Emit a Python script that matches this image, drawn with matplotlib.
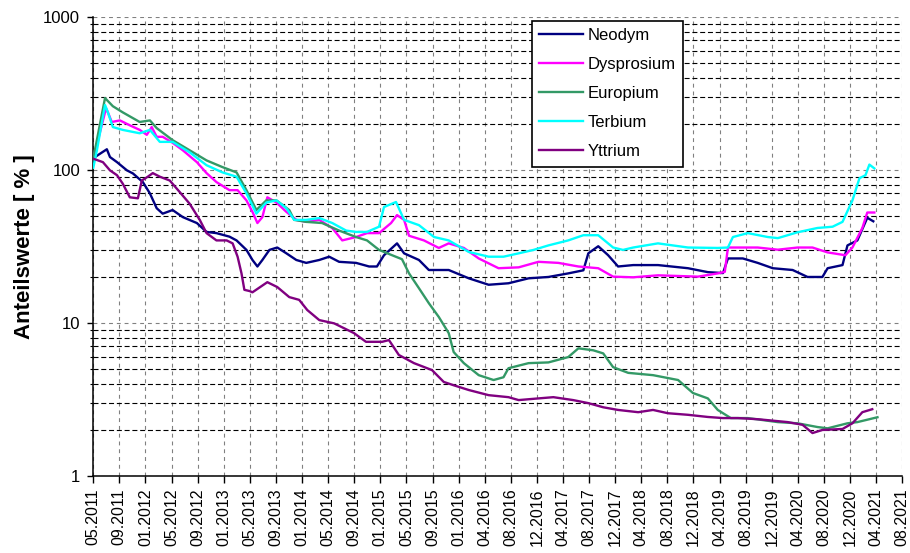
import numpy as np
from matplotlib import pyplot as plt
from matplotlib.ticker import NullFormatter, LogLocator

# x-Achse: gleichmaessig verteilte Datumsmarken (Position = Index der Marke)
xticklabels = ['05.2011', '09.2011', '01.2012', '05.2012', '09.2012', '01.2013',
               '05.2013', '09.2013', '01.2014', '05.2014', '09.2014', '01.2015',
               '05.2015', '09.2015', '01.2016', '04.2016', '08.2016', '12.2016',
               '04.2017', '08.2017', '12.2017', '04.2018', '08.2018', '12.2018',
               '04.2019', '08.2019', '12.2019', '04.2020', '08.2020', '12.2020',
               '04.2021', '08.2021']

nd_t = [0, 0.52, 0.64, 0.91, 1.29, 1.52, 1.90, 2.17, 2.43, 2.66, 3.04, 3.43, 3.97,
        4.34, 4.72, 5.22, 5.49, 5.87, 6.10, 6.29, 6.48, 6.75, 7.05, 7.40, 7.78, 8.16,
        8.66, 9.04, 9.42, 10.07, 10.57, 10.87, 11.14, 11.64, 11.91, 12.48, 12.86,
        13.62, 14.39, 15.15, 15.91, 16.68, 17.44, 18.20, 18.78, 18.97, 19.35, 19.73,
        20.11, 20.69, 21.64, 22.79, 23.55, 24.13, 24.32, 24.89, 25.46, 26.04, 26.80,
        27.37, 27.94, 28.14, 28.71, 28.90, 29.28, 29.66, 29.89]
nd_v = [119, 136, 121, 112, 99, 94.5, 83, 70, 56, 51.6, 54.5, 49, 44.8,
        39.2, 38.5, 36.5, 34.5, 29.9, 25.7, 23.3, 25.7, 29.9, 31, 28.4, 25.7, 24.6,
        25.7, 27, 25, 24.6, 23.3, 23.3, 27.6, 33, 28.4, 25.7, 22.1,
        22.1, 19.5, 17.7, 18.1, 19.5, 19.9, 21, 22, 28.4, 31.6, 27.6,
        23.3, 23.8, 23.8, 22.7, 21.4, 21.1, 26.3, 26.3, 24.6, 22.7, 22.1,
        19.9, 19.9, 22.7, 23.8, 32, 34.5, 48.5, 46]

dy_t = [0, 0.49, 0.56, 0.71, 1.02, 1.40, 1.78, 2.05, 2.24, 2.43, 2.66, 3.04, 3.43,
        3.97, 4.34, 4.72, 5.22, 5.53, 5.87, 6.10, 6.29, 6.48, 6.67, 7.02, 7.40, 7.78,
        8.16, 8.66, 9.16, 9.54, 10.07, 10.49, 10.95, 11.41, 11.64, 11.91, 12.10,
        12.67, 13.24, 13.62, 14.20, 14.77, 15.53, 16.30, 17.06, 17.82, 18.59, 19.35,
        19.92, 20.69, 21.64, 23.17, 23.93, 24.20, 24.32, 25.46, 26.23, 26.99, 27.56,
        28.14, 28.82, 29.09, 29.47, 29.66, 29.93]
dy_v = [118, 252, 237, 205, 210, 195, 182, 169, 190, 164, 164, 150, 134,
        112, 95, 83, 73.5, 73.5, 63, 53, 44.8, 49, 66, 61, 53, 47,
        45.6, 47, 41.5, 34.5, 36.3, 38.5, 38.5, 44.8, 50.5, 47, 37,
        34.5, 30.8, 33, 30.8, 26.3, 22.7, 23, 25, 24.6, 23.3, 22.7,
        20, 19.8, 20.4, 20, 21, 21.5, 31, 31, 30, 31, 31,
        28.8, 27.6, 31, 41.6, 52.5, 52.5]

eu_t = [0, 0.45, 0.75, 1.13, 1.78, 2.17, 2.43, 3.04, 3.69, 4.34, 4.95, 5.49, 5.87,
        6.25, 6.63, 7.02, 7.51, 7.70, 8.16, 8.77, 9.42, 10.07, 10.49, 10.95, 11.52,
        11.83, 12.10, 12.48, 12.86, 13.24, 13.62, 13.81, 14.20, 14.77, 15.34, 15.72,
        15.91, 16.68, 17.44, 18.20, 18.59, 19.16, 19.54, 19.92, 20.50, 21.45, 22.41,
        22.98, 23.55, 23.93, 24.43, 25.08, 26.23, 26.99, 27.75, 28.14, 28.90, 29.28,
        30.05]
eu_v = [118, 294, 260, 237, 205, 210, 187, 156, 134, 115, 104, 96, 73.5,
        54.5, 63, 63, 54.5, 47, 45.6, 44.8, 40, 36.3, 34.5, 29.9, 27.3,
        26, 21, 16.8, 13.4, 10.9, 8.55, 6.43, 5.44, 4.54, 4.22, 4.4,
        5.04, 5.44, 5.5, 5.96, 6.8, 6.6, 6.3, 5.12, 4.7, 4.54, 4.22,
        3.47, 3.2, 2.69, 2.38, 2.38, 2.24, 2.2, 2.08, 2.04, 2.2, 2.24,
        2.41]

tb_t = [0, 0.14, 0.45, 0.56, 0.75, 1.13, 1.78, 2.17, 2.55, 3.04, 3.69, 4.34, 4.95,
        5.49, 5.87, 6.25, 6.63, 7.02, 7.40, 7.70, 8.16, 8.66, 9.16, 9.69, 10.07,
        10.49, 10.95, 11.14, 11.60, 11.91, 12.48, 13.06, 13.62, 14.39, 15.15, 15.72,
        16.30, 16.87, 17.44, 18.20, 18.78, 19.35, 19.92, 20.30, 20.69, 21.64, 22.79,
        23.93, 24.32, 24.51, 25.08, 25.85, 26.23, 26.99, 27.75, 28.33, 28.71, 29.09,
        29.36, 29.59, 29.74, 29.93]
tb_v = [103, 134, 265, 237, 190, 182, 173, 182, 152, 152, 130, 107, 96,
        90, 70, 51.6, 61, 63, 56, 47, 47, 48.3, 44.8, 40, 39.2,
        39.2, 42.4, 57, 61.5, 47, 43.4, 36.3, 34.5, 29, 27, 27,
        28.4, 29.9, 32, 34.5, 37.3, 37.3, 31, 29.9, 31, 33, 31,
        30.8, 31, 36.3, 38.5, 36.3, 35.7, 39, 41.6, 42.4, 45.6, 63,
        88, 92, 108, 102]

y_t = [0, 0.37, 0.64, 0.91, 1.13, 1.40, 1.71, 1.86, 2.09, 2.28, 2.55, 2.93, 3.31,
       3.69, 4.08, 4.34, 4.72, 5.11, 5.34, 5.53, 5.68, 5.79, 5.99, 6.10, 6.67, 7.05,
       7.51, 7.89, 8.20, 8.66, 9.23, 9.61, 9.99, 10.45, 11.07, 11.33, 11.71, 12.29,
       12.98, 13.43, 13.81, 14.39, 15.15, 15.91, 16.30, 17.06, 17.63, 18.39, 18.97,
       19.54, 20.11, 20.88, 21.45, 22.02, 22.79, 23.55, 24.13, 24.70, 25.46, 26.61,
       27.18, 27.56, 27.94, 28.71, 29.09, 29.47, 29.85]
y_v = [118, 112, 99, 92, 81, 66, 65, 85, 90, 95, 90, 85, 71.5,
       60, 47, 38.5, 34.5, 34.5, 33, 27, 21, 16.4, 16.1, 15.8, 18.4, 17.1,
       14.7, 14.1, 12.1, 10.4, 9.9, 9.2, 8.55, 7.5, 7.5, 7.7, 6.15, 5.44,
       4.9, 4.1, 3.9, 3.63, 3.36, 3.26, 3.12, 3.2, 3.26, 3.12, 2.98,
       2.8, 2.69, 2.6, 2.69, 2.56, 2.5, 2.42, 2.38, 2.38, 2.34, 2.24,
       2.15, 1.9, 1.99, 2.02, 2.2, 2.6, 2.72]

plt.rcParams['font.family'] = ['Liberation Sans', 'DejaVu Sans']

fig = plt.figure(figsize=(9.1, 5.53), dpi=100)
ax = fig.add_axes([0.1025, 0.1398, 0.889, 0.830])

ax.plot(nd_t, nd_v, color='#000080', linewidth=1.7, label='Neodym', zorder=5)
ax.plot(dy_t, dy_v, color='#FF00FF', linewidth=1.7, label='Dysprosium', zorder=5)
ax.plot(eu_t, eu_v, color='#339966', linewidth=1.7, label='Europium', zorder=5)
ax.plot(tb_t, tb_v, color='#00FFFF', linewidth=1.7, label='Terbium', zorder=5)
ax.plot(y_t, y_v, color='#800080', linewidth=1.7, label='Yttrium', zorder=5)

ax.set_yscale('log')
ax.set_ylim(1, 1000)
ax.set_xlim(0, len(xticklabels) - 1)
ax.set_yticks([1, 10, 100, 1000])
ax.set_yticklabels(['1', '10', '100', '1000'], fontsize=12)
ax.yaxis.set_minor_locator(LogLocator(base=10, subs=np.arange(2, 10)))
ax.yaxis.set_minor_formatter(NullFormatter())
ax.set_xticks(range(len(xticklabels)))
ax.set_xticklabels(xticklabels, rotation=90, fontsize=11.5)

ax.tick_params(axis='y', which='major', length=4.5, width=1, pad=5, direction='out')
ax.tick_params(axis='y', which='minor', length=2.5, width=0.8, direction='out')
ax.tick_params(axis='x', which='major', length=5, width=1, pad=4, direction='out')

# Gitter
ax.grid(axis='x', which='major', color='#808080', linestyle=(0, (3.5, 3.5)), linewidth=0.8)
ax.grid(axis='y', which='major', color='#808080', linestyle=(0, (3.5, 3.5)), linewidth=0.8)
ax.grid(axis='y', which='minor', color='black', linestyle=(0, (4.5, 2.5)), linewidth=0.8)
ax.set_axisbelow(True)

for s in ['top', 'right']:
    ax.spines[s].set_visible(False)
for s in ['left', 'bottom']:
    ax.spines[s].set_linewidth(1.1)

ax.set_ylabel('Anteilswerte [ % ]', fontsize=16, fontweight='bold', labelpad=6)

leg = ax.legend(loc='upper left', bbox_to_anchor=(0.542, 0.991), fontsize=12,
                frameon=True, fancybox=False, framealpha=1, edgecolor='black',
                borderaxespad=0, borderpad=0.45, labelspacing=0.84,
                handlelength=2.6, handletextpad=0.3)
leg.get_frame().set_linewidth(1.2)
leg.set_zorder(10)

plt.savefig('out.png', dpi=100)
